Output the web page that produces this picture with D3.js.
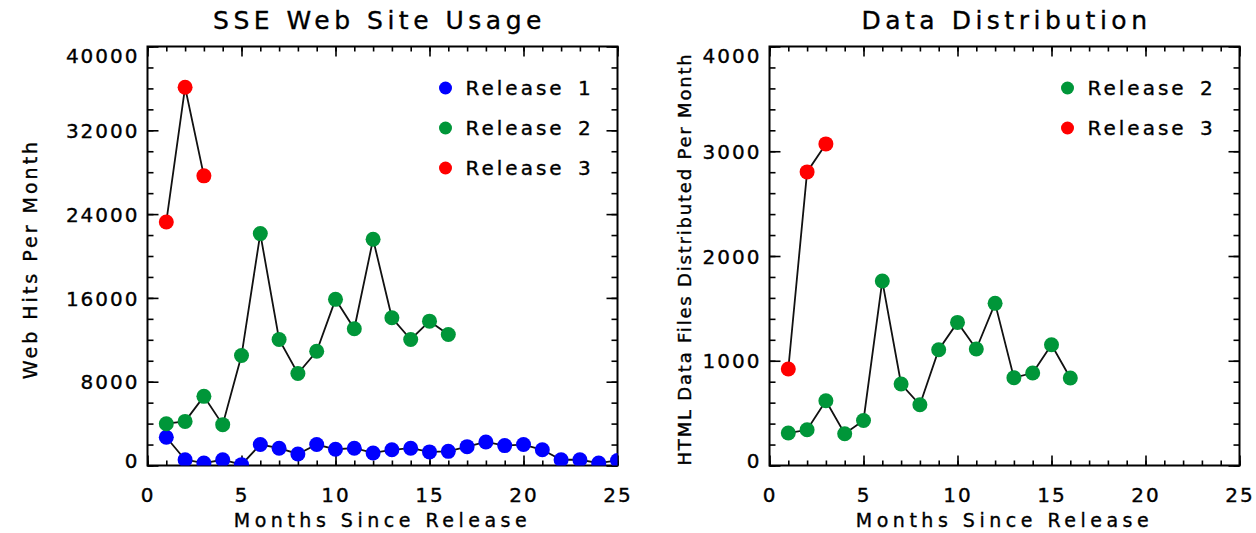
<!DOCTYPE html>
<html>
<head>
<meta charset="utf-8">
<script src="https://cdn.jsdelivr.net/npm/d3@7"></script>
<style>
  body { margin: 0; background: #fff; }
  svg text { font-family: "DejaVu Sans", sans-serif; fill: #000; stroke: #000; stroke-width: 0.35px; }
</style>
</head>
<body>
<svg id="chart" width="1256" height="533"></svg>
<script>
// months since release
const months1 = d3.range(1, 26);
const months2 = d3.range(1, 17);
const months3 = [1, 2, 3];

// web hits per month
const release1Hits = [2700, 550, 230, 550, 80, 2000, 1650, 1100, 2000, 1550, 1650, 1200, 1500,
                      1650, 1300, 1350, 1800, 2250, 1900, 2000, 1500, 550, 550, 230, 480];
const release2Hits = [3990, 4210, 6600, 3900, 10500, 22140, 12030, 8780, 10910, 15860, 13050,
                      21600, 14100, 12030, 13780, 12510];
const release3Hits = [23250, 36110, 27650];

// html data files distributed per month
const release2Files = [310, 341, 618, 303, 430, 1762, 778, 580, 1105, 1366, 1112, 1548, 838,
                       883, 1153, 835];
const release3Files = [921, 2803, 3070];

const xMajor = [0, 5, 10, 15, 20, 25];
const hitsMajor = [0, 8000, 16000, 24000, 32000, 40000];
const filesMajor = [0, 1000, 2000, 3000, 4000];

const colors = {r1: '#0000ff', r2: '#009639', r3: '#ff0000'};

const svg = d3.select('#chart');
const plotTop = 46.5, plotBottom = 465.5;

/**
 * One IDL-style panel: boxed frame, inward ticks, series of dots joined by lines.
 */
function drawPanel(opts) {
    const {id, x0, x1, yMax, yMajor, yMinorStep, title, titleShift, yTitle, yTitleSize,
           yTitleSpacing, yTitleX, series, legend} = opts;

    const x = d3.scaleLinear().domain([0, 25]).range([x0, x1]);
    const y = d3.scaleLinear().domain([0, yMax]).range([plotBottom, plotTop]);
    const g = svg.append('g').attr('class', id);

    g.append('clipPath').attr('id', 'clip-' + id)
        .append('rect')
        .attr('x', x0).attr('y', plotTop)
        .attr('width', x1 - x0).attr('height', plotBottom - plotTop);

    const xMinor = d3.range(0, 26);
    const yMinor = d3.range(0, yMax + 1, yMinorStep);

    function ticks(axis, tr) {
        const a = g.append('g').attr('transform', tr).call(axis);
        a.select('.domain').remove();
        a.selectAll('line').attr('stroke', '#000').attr('stroke-width', 1.6);
        return a;
    }

    // minor ticks
    ticks(d3.axisLeft(y).tickValues(yMinor).tickSize(-6).tickFormat(''), `translate(${x0},0)`);
    ticks(d3.axisRight(y).tickValues(yMinor).tickSize(-6).tickFormat(''), `translate(${x1},0)`);
    ticks(d3.axisBottom(x).tickValues(xMinor).tickSize(-5).tickFormat(''), `translate(0,${plotBottom})`);
    ticks(d3.axisTop(x).tickValues(xMinor).tickSize(-5).tickFormat(''), `translate(0,${plotTop})`);

    // major ticks
    const left = ticks(d3.axisLeft(y).tickValues(yMajor).tickSize(-11).tickPadding(8)
        .tickFormat(d3.format('d')), `translate(${x0},0)`);
    ticks(d3.axisRight(y).tickValues(yMajor).tickSize(-11).tickFormat(''), `translate(${x1},0)`);
    const bot = ticks(d3.axisBottom(x).tickValues(xMajor).tickSize(-10).tickFormat(d3.format('d')),
        `translate(0,${plotBottom})`);
    ticks(d3.axisTop(x).tickValues(xMajor).tickSize(-10).tickFormat(''), `translate(0,${plotTop})`);

    left.selectAll('text')
        .attr('font-size', 20)
        .attr('letter-spacing', 2)
        .attr('dy', d => d === yMax ? '0.8em' : (d === 0 ? '0.1em' : '0.36em'));
    bot.selectAll('text')
        .attr('font-size', 20)
        .attr('letter-spacing', 2)
        .attr('y', 36.5)
        .attr('dy', null);
    g.selectAll('.tick text').attr('font-family', '"DejaVu Sans", sans-serif').attr('fill', '#000');

    // frame
    g.append('rect')
        .attr('x', x0).attr('y', plotTop)
        .attr('width', x1 - x0).attr('height', plotBottom - plotTop)
        .attr('fill', 'none').attr('stroke', '#000').attr('stroke-width', 2);

    const line = d3.line().x(d => x(d[0])).y(d => y(d[1]));
    const plot = g.append('g').attr('clip-path', `url(#clip-${id})`);

    series.forEach(s => {
        const pts = s.months.map((m, i) => [m, s.values[i]]);
        plot.append('path')
            .datum(pts)
            .attr('d', line)
            .attr('fill', 'none')
            .attr('stroke', '#111')
            .attr('stroke-width', 1.8);
        plot.selectAll(null)
            .data(pts)
            .enter()
            .append('circle')
            .attr('cx', d => x(d[0]))
            .attr('cy', d => y(d[1]))
            .attr('r', 7.5)
            .attr('fill', s.color);
    });

    // legend
    legend.forEach((l, i) => {
        const cy = 88 + i * 40;
        g.append('circle')
            .attr('cx', x0 + 298).attr('cy', cy)
            .attr('r', 6.5)
            .attr('fill', l.color);
        g.append('text')
            .attr('x', x0 + 318).attr('y', cy + 7)
            .attr('font-size', 20)
            .attr('letter-spacing', 3)
            .attr('word-spacing', 4)
            .text(l.label);
    });

    // titles
    const cx = (x0 + x1) / 2;
    g.append('text')
        .attr('x', cx + titleShift).attr('y', 28.5)
        .attr('text-anchor', 'middle')
        .attr('font-size', 25)
        .attr('letter-spacing', 4.5)
        .text(title);
    g.append('text')
        .attr('x', cx).attr('y', 527)
        .attr('text-anchor', 'middle')
        .attr('font-size', 19)
        .attr('letter-spacing', 4.5)
        .text('Months Since Release');
    g.append('text')
        .attr('transform', `translate(${yTitleX},${(plotTop + plotBottom) / 2 + 3}) rotate(-90)`)
        .attr('text-anchor', 'middle')
        .attr('font-size', yTitleSize)
        .attr('letter-spacing', yTitleSpacing)
        .text(yTitle);
}

drawPanel({
    id: 'usage',
    x0: 147.5, x1: 617.5,
    yMax: 40000, yMajor: hitsMajor, yMinorStep: 2000,
    title: 'SSE Web Site Usage', titleShift: -3,
    yTitle: 'Web Hits Per Month', yTitleSize: 19, yTitleSpacing: 3, yTitleX: 37,
    series: [
        {months: months1, values: release1Hits, color: colors.r1},
        {months: months2, values: release2Hits, color: colors.r2},
        {months: months3, values: release3Hits, color: colors.r3}
    ],
    legend: [
        {label: 'Release 1', color: colors.r1},
        {label: 'Release 2', color: colors.r2},
        {label: 'Release 3', color: colors.r3}
    ]
});

drawPanel({
    id: 'files',
    x0: 769.5, x1: 1239.5,
    yMax: 4000, yMajor: filesMajor, yMinorStep: 200,
    title: 'Data Distribution', titleShift: 2,
    yTitle: 'HTML Data Files Distributed Per Month', yTitleSize: 18, yTitleSpacing: 1.8, yTitleX: 691,
    series: [
        {months: months2, values: release2Files, color: colors.r2},
        {months: months3, values: release3Files, color: colors.r3}
    ],
    legend: [
        {label: 'Release 2', color: colors.r2},
        {label: 'Release 3', color: colors.r3}
    ]
});
</script>
</body>
</html>
